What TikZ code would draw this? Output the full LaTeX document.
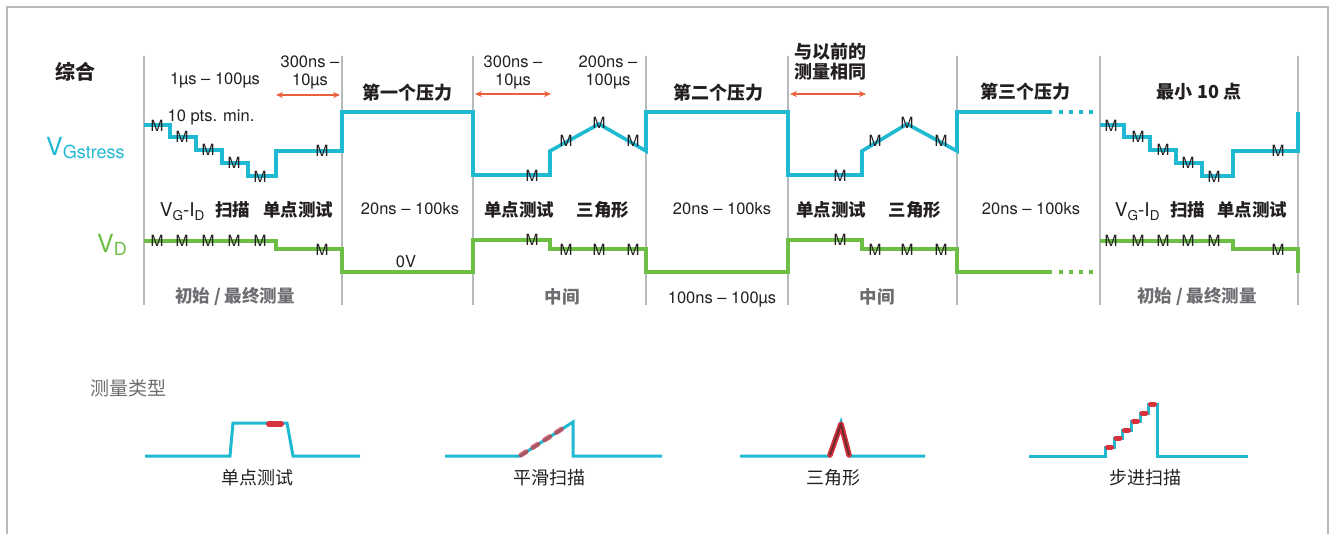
\documentclass[tikz,border=0pt]{standalone}
\usepackage{fontspec}
\setmainfont{TeX Gyre Heros}
\newfontfamily\cjk{Noto Sans CJK SC}
\usetikzlibrary{arrows.meta}
\definecolor{vgcyan}{HTML}{1FBAD2}
\definecolor{vdgreen}{HTML}{6CBE45}
\definecolor{gaporange}{HTML}{EB5F3D}
\definecolor{sepgray}{HTML}{B7BABC}
\definecolor{ink}{HTML}{231F20}
\definecolor{softgray}{HTML}{6D6E71}
\definecolor{redmk}{HTML}{D8323C}
\definecolor{darkmk}{HTML}{6B2A2E}
\newcommand\lowsub[2]{\raisebox{-#1}{\fontsize{13.5}{14}\selectfont #2}}
\newcommand\vgid{V\lowsub{3.5pt}{G}-I\lowsub{3.5pt}{D}}

\begin{document}
\begin{tikzpicture}[x=1pt,y=-1pt,
    wave/.style={line width=3.6pt},
    icon/.style={vgcyan,line width=3pt},
    redmark/.style={redmk,line width=6pt,line cap=round},
    gap/.style={gaporange,line width=1.4pt,{Stealth[length=7pt,width=6pt]}-{Stealth[length=7pt,width=6pt]}},
    txt/.style={inner sep=0pt,text=ink,font=\fontsize{16.5}{18}\selectfont,align=center},
    head/.style={inner sep=0pt,text=ink,font=\cjk\bfseries\fontsize{18}{21}\selectfont,align=center},
    lbl/.style={inner sep=0pt,text=ink,font=\cjk\bfseries\fontsize{17.5}{20}\selectfont},
    note/.style={lbl,text=softgray},
    caption/.style={inner sep=0pt,text=ink,font=\cjk\fontsize{18}{20}\selectfont},
    mm/.style={inner sep=0pt,text=ink,font=\fontsize{15.5}{16}\selectfont}]
  \useasboundingbox (0,0) rectangle (1330,534);
  \draw[sepgray,line width=2pt] (7,534) -- (7,7) -- (1328,7) -- (1328,534);
  \foreach \x in {144,342,473,646,788,957,1100,1298}
    \draw[sepgray,line width=1.8pt] (\x,56) -- (\x,305);

  % gate stress waveform
  \draw[wave,vgcyan] (144,125) -- (170,125) -- (170,137) -- (196,137) -- (196,150) -- (222,150)
    -- (222,163) -- (248,163) -- (248,176) -- (276,176) -- (276,151) -- (342,151) -- (342,112)
    -- (473,112) -- (473,175) -- (550,175) -- (550,151) -- (599,124) -- (646,151) -- (646,112)
    -- (788,112) -- (788,175) -- (862,175) -- (862,151) -- (907,124) -- (957,151) -- (957,112)
    -- (1052,112);
  \draw[wave,vgcyan,dash pattern=on 4pt off 6pt] (1059,112) -- (1095,112);
  \draw[wave,vgcyan] (1100,125) -- (1124,125) -- (1124,137) -- (1150,137) -- (1150,150)
    -- (1176,150) -- (1176,163) -- (1202,163) -- (1202,176) -- (1233,176) -- (1233,151)
    -- (1298,151) -- (1298,112);

  % drain waveform
  \draw[wave,vdgreen] (144,241) -- (276,241) -- (276,249) -- (342,249) -- (342,272) -- (473,272)
    -- (473,240) -- (550,240) -- (550,249) -- (646,249) -- (646,272) -- (788,272) -- (788,240)
    -- (862,240) -- (862,249) -- (957,249) -- (957,272) -- (1052,272);
  \draw[wave,vdgreen,dash pattern=on 4pt off 6pt] (1059,272) -- (1095,272);
  \draw[wave,vdgreen] (1100,241) -- (1233,241) -- (1233,249) -- (1298,249) -- (1298,273);

  \foreach \x/\y [count=\i] in {157/126,182/137,208/150,234/163,260/177,322/151,532/176,566/141,
      599/123,633/141,840/176,875/141,907/123,941/141,1111/126,1138/137,1163/150,1188/163,
      1214/177,1278/151}
    \node[mm] (mg\i) at (\x,\y) {M};
  \foreach \x/\y [count=\i] in {157/241,182/241,208/241,234/241,260/241,322/250,532/240,566/250,
      599/250,633/250,840/240,875/250,907/250,941/250,1111/241,1138/241,1163/241,1188/241,
      1214/241,1278/250}
    \node[mm] (md\i) at (\x,\y) {M};

  \node[head,font=\cjk\bfseries\fontsize{20}{22}\selectfont] (mix) at (75,72) {综合};
  \node[anchor=base west,inner sep=0pt,text=vgcyan,font=\fontsize{25}{25}\selectfont] (vg) at (46,156)
    {V\raisebox{-3pt}{\fontsize{18}{18}\selectfont Gstress}};
  \node[anchor=base west,inner sep=0pt,text=vdgreen,font=\fontsize{25}{25}\selectfont] (vd) at (97,253)
    {V\raisebox{-3pt}{\fontsize{18}{18}\selectfont D}};

  \coordinate (g1a) at (276,95);
  \coordinate (g1b) at (340,95);
  \coordinate (g2a) at (475,94);
  \coordinate (g2b) at (551,94);
  \coordinate (g3a) at (790,94);
  \coordinate (g3b) at (866,94);
  \draw[gap] (g1a) -- (g1b);
  \draw[gap] (g2a) -- (g2b);
  \draw[gap] (g3a) -- (g3b);

  \node[txt] (r1) at (215,80) {1µs – 100µs};
  \node[txt] (r2) at (310,72) {300ns –\\10µs};
  \node[txt] (pts) at (211,117) {10 pts. min.};
  \node[txt,font=\fontsize{19}{20}\selectfont] (v1) at (205,211) {\vgid\ \ {\cjk\bfseries\fontsize{17.5}{20}\selectfont 扫描}};
  \node[lbl] (sp1) at (298,210) {单点测试};
  \node[note] (fin1) at (235,297) {初始 / 最终测量};

  \node[head] (p1) at (407,93) {第一个压力};
  \node[txt] (s1) at (410,209) {20ns – 100ks};
  \node[txt] (zero) at (406,262) {0V};
  \node[txt] (r3) at (513,72) {300ns –\\10µs};
  \node[txt] (r4) at (608,72) {200ns –\\100µs};
  \node[lbl] (sp2) at (519,210) {单点测试};
  \node[lbl] (tri2) at (603,210) {三角形};
  \node[note] (mid2) at (562,297) {中间};

  \node[head] (p2) at (718,93) {第二个压力};
  \node[txt] (s2) at (722,209) {20ns – 100ks};
  \node[txt] (off) at (722,299) {100ns – 100µs};
  \node[head] (same) at (830,62) {与以前的\\[-1pt]测量相同};
  \node[lbl] (sp3) at (831,210) {单点测试};
  \node[lbl] (tri3) at (915,210) {三角形};
  \node[note] (mid3) at (877,297) {中间};

  \node[head] (p3) at (1025,92) {第三个压力};
  \node[txt] (s3) at (1031,209) {20ns – 100ks};
  \node[head] (min10) at (1199,92) {最小 10 点};
  \node[txt,font=\fontsize{19}{20}\selectfont] (v4) at (1160,211) {\vgid\ \ {\cjk\bfseries\fontsize{17.5}{20}\selectfont 扫描}};
  \node[lbl] (sp4) at (1252,210) {单点测试};
  \node[note] (fin4) at (1197,297) {初始 / 最终测量};

  % measurement types
  \node[caption,text=softgray,font=\cjk\fontsize{19}{20}\selectfont] (kinds) at (128,388) {测量类型};
  \draw[icon] (145,456) -- (230,456) -- (233,423) -- (287,423) -- (293,456) -- (360,456);
  \draw[redmark] (269,424) -- (281,424);
  \node[caption] (k1) at (257,478) {单点测试};

  \draw[icon] (445,456) -- (520,456) -- (573,422) -- (573,456) -- (662,456);
  \draw[redmark,line width=5pt,opacity=0.7,dash pattern=on 6pt off 8pt] (521,455) -- (568,425);
  \node[caption] (k2) at (549,478) {平滑扫描};

  \draw[icon] (740,456) -- (829,456) -- (841,422) -- (850,456) -- (925,456);
  \draw[redmark,line width=5.5pt,line join=round] (830,455) -- (841,424) -- (849,455);
  \draw[darkmk,line width=2pt,line join=round] (830,455) -- (841,424) -- (849,455);
  \node[caption] (k3) at (833,478) {三角形};

  \draw[icon] (1029,456) -- (1105,456) |- (1114,447) |- (1122,438) |- (1131,430) |- (1140,421)
    |- (1148,413) |- (1157,404) -- (1157,456) -- (1248,456);
  \foreach \x/\y in {1109.5/447,1118/438,1126.5/430,1135.5/421,1144/413,1152.5/404}
    \draw[redmark,line width=5pt] (\x-2,\y) -- (\x+2,\y);
  \node[caption] (k4) at (1145,478) {步进扫描};
\end{tikzpicture}
\end{document}
